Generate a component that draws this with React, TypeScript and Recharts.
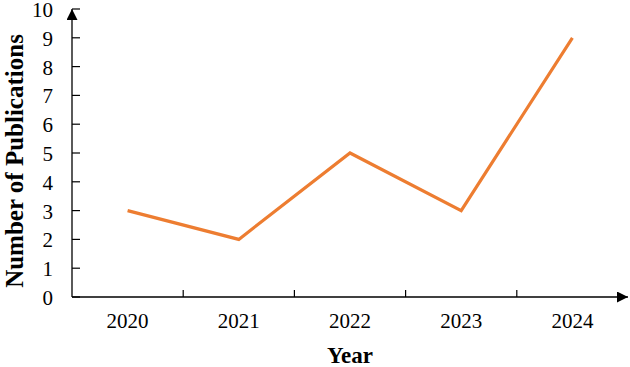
import { LineChart, Line, XAxis, YAxis } from "recharts";

const years = ["2020", "2021", "2022", "2023", "2024"];
const publications = [3, 2, 5, 3, 9];
const yTicks = [0, 1, 2, 3, 4, 5, 6, 7, 8, 9, 10];

const data = years.map((year, i) => ({ year, count: publications[i] }));

const ORANGE = "#ED7D31";
const FONT = "'Liberation Serif', 'Times New Roman', serif";
const HALF_BAND = 55.6;

function XTick(props: any) {
  const { x, y, payload, index } = props;
  return (
    <g>
      {index > 0 && (
        <line x1={x - HALF_BAND} x2={x - HALF_BAND} y1={y} y2={y - 7} stroke="#000" strokeWidth={1.2} />
      )}
      <text x={x} y={y + 31} textAnchor="middle" fontSize={21} fontFamily={FONT} fill="#000">
        {payload.value}
      </text>
    </g>
  );
}

function YTick(props: any) {
  const { x, y, payload } = props;
  return (
    <g>
      <line x1={x} x2={x + 8} y1={y} y2={y} stroke="#000" strokeWidth={1.2} />
      <text x={x - 19} y={y + 8} textAnchor="end" fontSize={21} fontFamily={FONT} fill="#000">
        {payload.value}
      </text>
    </g>
  );
}

// rotated y title, placed relative to the axis box
function YTitle(props: any) {
  const { viewBox } = props;
  const cx = viewBox.x + 23;
  const cy = viewBox.y + viewBox.height / 2 + 8;
  return (
    <text
      x={cx}
      y={cy}
      transform={`rotate(-90, ${cx}, ${cy})`}
      textAnchor="middle"
      fontSize={25}
      fontWeight="bold"
      fontFamily={FONT}
      fill="#000"
    >
      Number of Publications
    </text>
  );
}

export default function App() {
  return (
    <div style={{ position: "absolute", left: 0, top: 0, width: 630, height: 367, background: "#fff" }}>
      <svg width={0} height={0} style={{ position: "absolute" }}>
        <defs>
          <marker
            id="axisArrow"
            viewBox="0 0 10 10"
            refX={10}
            refY={5}
            markerWidth={11}
            markerHeight={11}
            markerUnits="userSpaceOnUse"
            orient="auto-start-reverse"
          >
            <path d="M0,0 L10,5 L0,10 z" fill="#000" />
          </marker>
        </defs>
      </svg>
      <LineChart width={630} height={367} data={data} margin={{ top: 9, right: 2, left: 0, bottom: 0 }}>
        <XAxis
          dataKey="year"
          height={70}
          padding={{ left: HALF_BAND, right: HALF_BAND }}
          tickLine={false}
          tickSize={0}
          tickMargin={0}
          tick={<XTick />}
          axisLine={{ stroke: "#000", strokeWidth: 1.3, markerEnd: "url(#axisArrow)" }}
          label={{
            value: "Year",
            position: "insideBottom",
            offset: 4,
            style: { fontFamily: FONT, fontSize: 23, fontWeight: "bold", fill: "#000" },
          }}
        />
        <YAxis
          width={72}
          domain={[0, 10]}
          ticks={yTicks}
          interval={0}
          tickLine={false}
          tickSize={0}
          tickMargin={0}
          tick={<YTick />}
          axisLine={{ stroke: "#000", strokeWidth: 1.3, markerStart: "url(#axisArrow)" }}
          label={<YTitle />}
        />
        <Line
          type="linear"
          dataKey="count"
          stroke={ORANGE}
          strokeWidth={3.2}
          dot={false}
          activeDot={false}
          isAnimationActive={false}
        />
      </LineChart>
    </div>
  );
}
